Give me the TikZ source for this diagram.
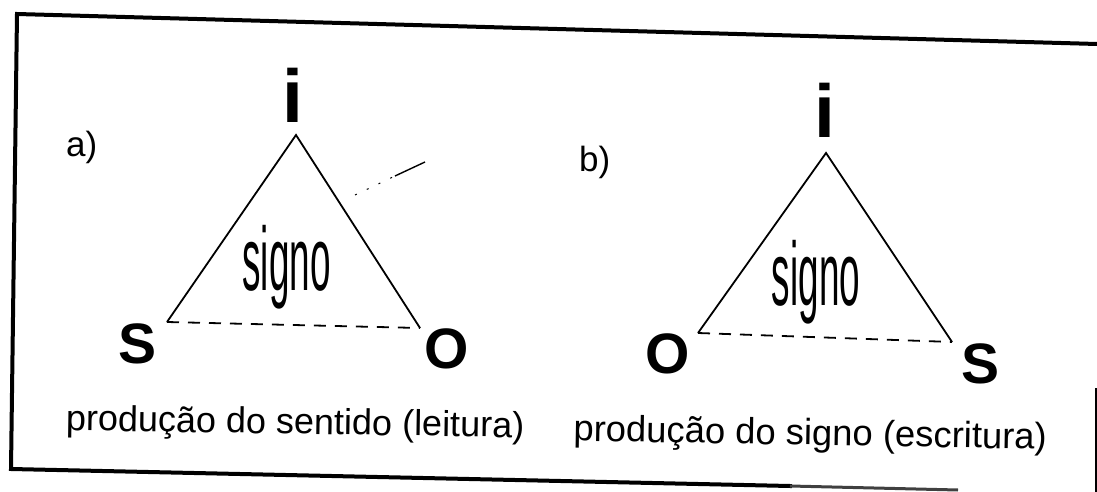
\documentclass[tikz,border=0pt]{standalone}
\usepackage{fontspec}
\setmainfont{Liberation Sans}
\begin{document}
\begin{tikzpicture}[x=1pt,y=-1pt,
  tri/.style={line width=1.8pt, line join=miter},
  dashbase/.style={line width=1.8pt, dash pattern=on 12pt off 9pt},
  framel/.style={line width=4pt, line cap=rect},
  vlab/.style={font={\fontsize{57}{60}\selectfont\bfseries}, inner sep=0pt, anchor=base},
  ilab/.style={font={\fontsize{75}{78}\selectfont\bfseries}, inner sep=0pt, anchor=base},
  sig/.style={font={\fontsize{90}{94}\selectfont}, inner sep=0pt, anchor=base},
  caplab/.style={inner sep=0pt, anchor=base},
  part/.style={font={\fontsize{35}{38}\selectfont}, inner sep=0pt, anchor=base west}]
\useasboundingbox (0,0) rectangle (1097,492);
% frame
\coordinate (tl) at (17,14);
\coordinate (tr) at (1097,44);
\coordinate (bl) at (11,469);
\coordinate (bm) at (790,486);
\coordinate (br) at (958,490);
\coordinate (r1) at (1096,388);
\coordinate (r2) at (1096,492);
\draw[framel] (tr) -- (tl) -- (bl) -- (bm);
\draw[line width=3pt, black!75] (bm) -- (br);
\draw[line width=3pt] (r1) -- (r2);
% triangle a
\coordinate (Ai) at (296,135);
\coordinate (As) at (167,322);
\coordinate (Ao) at (420,328);
\draw[tri] (As) -- (Ai) -- (Ao);
\draw[dashbase] (As) -- (Ao);
% stray mark
\coordinate (m1) at (355,195);
\coordinate (m2) at (395,176);
\coordinate (m3) at (425,162);
\draw[line width=1pt, dash pattern=on 2pt off 11pt] (m1) -- (m2);
\draw[line width=1.4pt] (m2) -- (m3);
% triangle b
\coordinate (Bi) at (826,153);
\coordinate (Bo) at (698,333);
\coordinate (Bs) at (952,342);
\draw[tri] (Bo) -- (Bi) -- (Bs);
\draw[dashbase] (Bo) -- (Bs);
% labels a
\node[part] (pa) at (66,157) {a)};
\node[ilab] (ia) at (293,123) {i};
\node[vlab] (sa) at (138,363) {S};
\node[vlab] (oa) at (447,368) {O};
\node[sig] (signa) at (286.5,290) {\scalebox{0.41}[1]{signo}};
\node[caplab, font={\fontsize{36}{40}\selectfont}, rotate=-0.9] (capa) at (295,434) {produção do sentido (leitura)};
% labels b
\node[part] (pb) at (579,171) {b)};
\node[ilab] (ib) at (825,138) {i};
\node[vlab] (ob) at (668,373) {O};
\node[vlab] (sb) at (980,383) {S};
\node[sig] (signb) at (816,305) {\scalebox{0.41}[1]{signo}};
\node[caplab, font={\fontsize{36.4}{40}\selectfont}, rotate=-1.0] (capb) at (810,445) {produção do signo (escritura)};
\end{tikzpicture}
\end{document}
